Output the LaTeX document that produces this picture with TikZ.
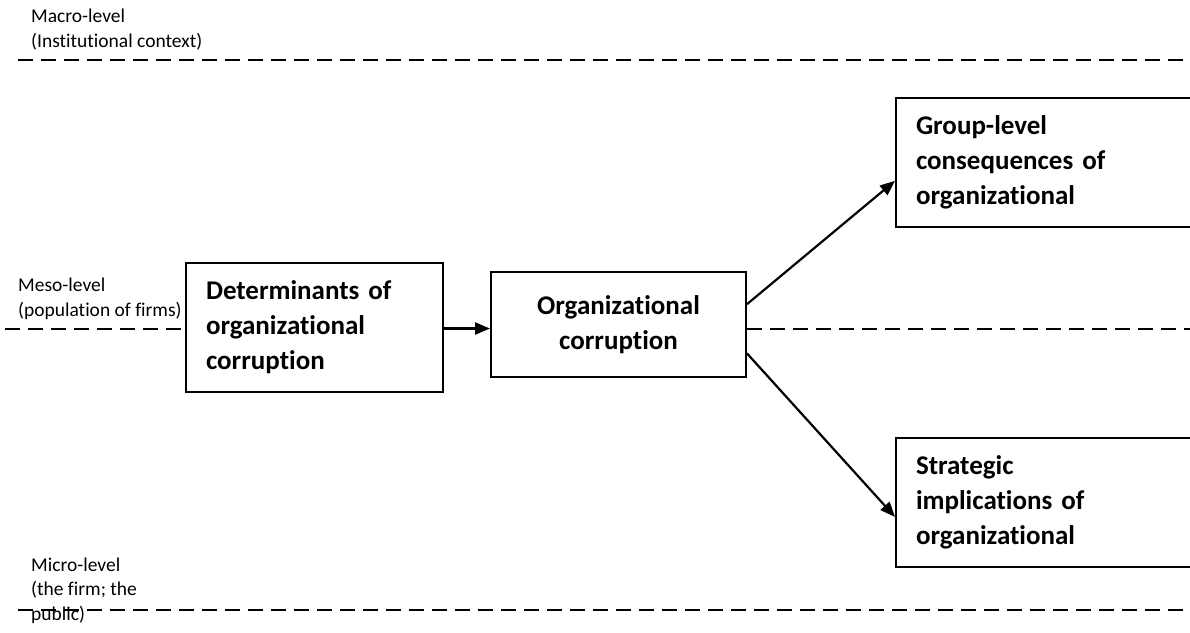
\documentclass[tikz,border=0pt]{standalone}
\usepackage{fontspec}
\setmainfont{Carlito}[Ligatures=NoCommon]
\usetikzlibrary{positioning, calc, arrows.meta}
\tikzset{
x=1pt, y=-1pt, % one unit per pixel of the sketch, y downwards
>={Triangle[length=15pt,width=12pt]}, % filled arrow heads
box/.style={draw, line width=2pt, rectangle, inner xsep=20pt, inner ysep=0pt,
  minimum height=129pt, font=\bfseries\fontsize{27}{35}\selectfont}, % the bold boxes
levelline/.style={line width=1.5pt, dash pattern=on 15pt off 8pt}, % the dashed level lines
levellabel/.style={anchor=base west, align=left, inner sep=0pt,
  font=\fontsize{19.5}{24.5}\selectfont}, % texts on the left, placed at their last line
link/.style={->, line width=2.2pt}, % the connectors
}
\begin{document}
\begin{tikzpicture}
        \useasboundingbox (0,0) rectangle (1190,632);

        % level labels
        \node[levellabel] (macro) at (31,47) {Macro-level\\(Institutional context)};
        \node[levellabel] (meso) at (18,316) {Meso-level\\(population of firms)};
        \node[levellabel] (micro) at (31,620) {Micro-level\\(the firm; the\\public)};

        % boxes
        \node[box, text width=217pt, align=left, anchor=west] (det) at (185,327.5)
          {Determinants of\\organizational\\corruption};
        \node[box, text width=215pt, align=center, minimum height=105pt, anchor=west] (org) at (490,324.5)
          {Organizational\\corruption};
        \node[box, text width=265pt, align=left, anchor=west] (grp) at (895,162.5)
          {Group-level\\consequences of\\organizational};
        \node[box, text width=265pt, align=left, anchor=west] (strat) at (895,502.5)
          {Strategic\\implications of\\organizational};

        % dashed level lines
        \coordinate (topL) at (18,60);
        \coordinate (topR) at (1190,60);
        \coordinate (midL) at (5,329);
        \coordinate (midR) at (1190,329);
        \coordinate (botL) at (18,610);
        \coordinate (botR) at (1190,610);
        \draw[levelline] (topL) -- (topR);
        \draw[levelline] (midL) -- (midL -| det.west);
        \draw[levelline] (midR -| org.east) -- (midR);
        \draw[levelline] (botL) -- (botR);

        % connectors
        \draw[link] ($(det.east)+(0,1)$) -- ($(det.east -| org.west)+(0,1)$);
        \draw[link] ($(org.north east)!0.31!(org.south east)$) -- ($(grp.north west)!0.64!(grp.south west)$);
        \draw[link] ($(org.north east)!0.77!(org.south east)$) -- ($(strat.north west)!0.61!(strat.south west)$);
      \end{tikzpicture}
\end{document}
